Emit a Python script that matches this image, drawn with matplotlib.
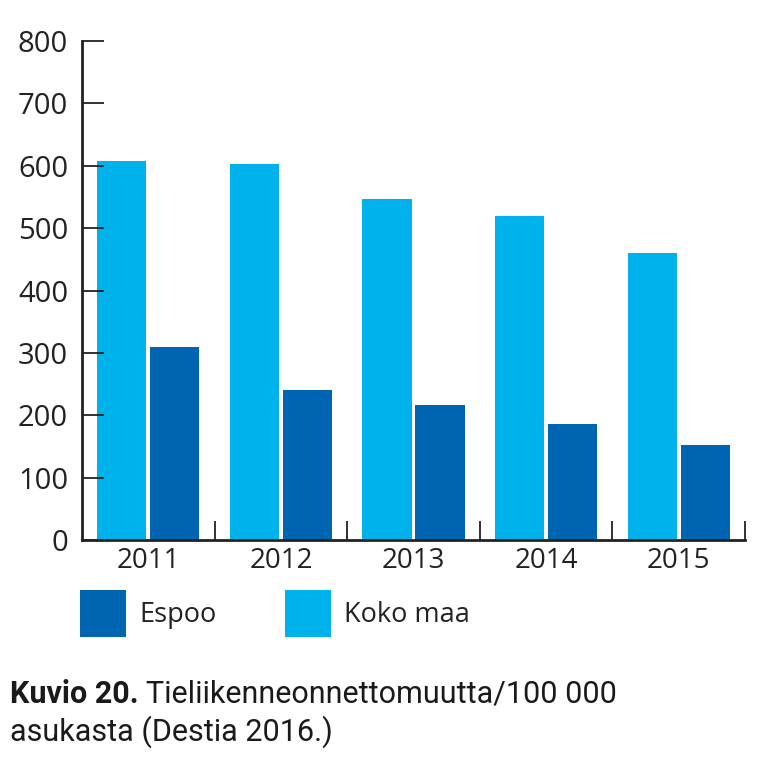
import matplotlib.pyplot as plt
import numpy as np

plt.rcParams['font.family'] = ['Open Sans', 'DejaVu Sans']

years = ['2011', '2012', '2013', '2014', '2015']
koko_maa = [607, 603, 546, 519, 460]
espoo = [309, 240, 216, 186, 152]

light = '#00b2ec'
dark = '#0065b0'

fig = plt.figure(figsize=(7.78, 7.62), dpi=100)
ax = fig.add_axes([0.1054, 0.2913, 0.8522, 0.6549])

x = np.arange(len(years))
w = 0.37
ax.bar(x - 0.2, koko_maa, w, color=light, label='Koko maa')
ax.bar(x + 0.2, espoo, w, color=dark, label='Espoo')

ax.set_xlim(-0.5, len(years) - 0.5)
ax.set_ylim(0, 800)
ax.set_yticks(range(0, 801, 100))
ax.set_xticks(x)
ax.set_xticklabels(years)
ax.set_xticks(np.arange(len(years)) + 0.5, minor=True)

for s in ['top', 'right']:
    ax.spines[s].set_visible(False)
for s in ['left', 'bottom']:
    ax.spines[s].set_linewidth(2)
    ax.spines[s].set_color('#222222')

ax.tick_params(axis='y', direction='in', length=16, width=1.3,
               labelsize=21, pad=10, colors='#222222')
ax.tick_params(axis='x', which='major', length=0, labelsize=20, pad=5,
               colors='#222222')
ax.tick_params(axis='x', which='minor', direction='in', length=14, width=1.3,
               color='#222222')

handles, labels = ax.get_legend_handles_labels()
leg = ax.legend(handles[::-1], labels[::-1], ncol=2, loc='upper left',
                bbox_to_anchor=(-0.003, -0.1), frameon=False, fontsize=19.5,
                handlelength=1.7, handleheight=2.3, handletextpad=0.5,
                columnspacing=2.5, borderaxespad=0, borderpad=0)
for t in leg.get_texts():
    t.set_color('#222222')

cap_font = ['Roboto', 'DejaVu Sans']
t1 = fig.text(0.013, 0.078, 'Kuvio 20.', fontsize=22, fontweight='bold',
              color='#1a1a1a', family=cap_font)
fig.canvas.draw()
bb = t1.get_window_extent().transformed(fig.transFigure.inverted())
fig.text(bb.x1 + 0.009, 0.078, 'Tieliikenneonnettomuutta/100 000', fontsize=22,
         color='#1a1a1a', family=cap_font)
fig.text(0.013, 0.028, 'asukasta (Destia 2016.)', fontsize=22,
         color='#1a1a1a', family=cap_font)

fig.savefig('out.png', dpi=100)
